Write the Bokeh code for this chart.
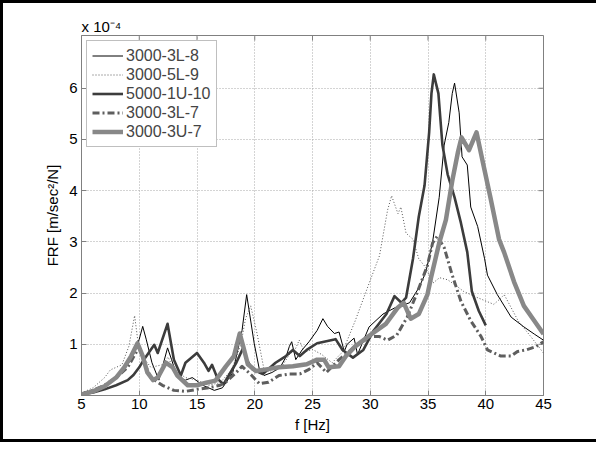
import math
from bokeh.plotting import figure
from bokeh.layouts import column
from bokeh.models import Range1d, FixedTicker, Legend, LegendItem
from bokeh.embed import file_html
from bokeh.resources import INLINE

# ---- data (FRF in units of 1e-4 m/sec^2/N) ----
f_3L8 = [5, 6, 7, 8, 8.5, 9, 9.5, 10, 10.3, 10.6, 11.1, 11.7, 12.45, 12.8, 13.3, 14, 14.6, 15.5, 16.5,
         17.2, 18.1, 18.9, 19.3, 19.95, 20.4, 20.8, 21.5, 22.2, 22.7, 23.0, 23.2, 23.55, 24.1, 24.7,
         25.4, 25.9, 26.3, 26.9, 27.3, 27.75, 28.0, 28.6, 28.9, 29.9, 31.1, 32.2, 33.4, 34.2, 34.8,
         35.4, 35.97, 36.4, 36.8, 37.1, 37.3, 37.7, 37.95, 38.4, 38.7, 39.3, 39.9, 40.15, 41.0, 42.2,
         43.3, 44.2, 45]
v_3L8 = [0.05, 0.1, 0.2, 0.35, 0.45, 0.6, 0.8, 1.1, 1.35, 1.1, 0.64, 0.3, 0.93, 0.7, 0.35, 0.3, 0.35,
         0.2, 0.1, 0.15, 0.45, 1.27, 1.97, 1.02, 0.51, 0.39, 0.45, 0.55, 0.75, 0.96, 1.05, 0.70, 0.89,
         1.05, 1.27, 1.50, 1.35, 1.21, 1.24, 0.86, 1.0, 1.12, 0.80, 1.34, 1.59, 1.72, 1.81, 2.10, 2.4,
         3.0, 3.87, 4.89, 5.33, 5.9, 6.10, 5.52, 4.66, 4.5, 3.68, 3.30, 2.67, 2.35, 1.97, 1.53, 1.34,
         1.2, 1.08]

f_5L9 = [5, 6, 6.5, 7, 7.5, 8, 8.5, 9.1, 9.6, 10.0, 10.5, 11, 12, 12.5, 13, 14, 15, 16, 17, 18, 18.8,
         19.2, 19.65, 20.2, 20.8, 21.5, 22.3, 23.0, 23.5, 23.85, 24.3, 25, 25.8, 26.7, 27.6, 28.7, 29.8,
         30.8, 31.5, 31.85, 32.4, 32.65, 33.1, 33.7, 34.2, 34.8, 35.4, 36.0, 36.7, 37.4, 38.1, 39.3,
         40.7, 41.3, 41.6, 42.8, 43.9, 45]
v_5L9 = [0.05, 0.15, 0.25, 0.35, 0.5, 0.55, 0.6, 0.96, 1.56, 0.85, 0.7, 0.55, 0.6, 0.75, 0.5, 0.35, 0.3,
         0.2, 0.25, 0.5, 1.0, 1.5, 1.75, 1.21, 0.51, 0.45, 0.55, 0.8, 0.9, 1.08, 0.85, 0.9, 0.8, 0.64,
         0.85, 1.46, 2.13, 2.73, 3.62, 3.90, 3.55, 3.68, 3.17, 3.05, 2.67, 2.5, 2.19, 2.3, 2.26, 2.15,
         2.03, 1.91, 1.78, 1.9, 1.97, 1.46, 1.15, 0.83]

f_1U10 = [5, 6, 7, 8, 9, 9.5, 10, 10.4, 11.3, 11.6, 12.45, 13.0, 13.6, 14.0, 15.0, 15.6, 16.0, 16.3, 16.8,
          17.3, 18.4, 19.0, 19.3, 19.8, 20.7, 21.8, 22.7, 23.3, 23.9, 24.5, 25.4, 26.0, 27.0, 27.6, 28.5,
          29.4, 30.3, 31.4, 32.1, 32.7, 33.1, 33.7, 34.2, 34.7, 35.1, 35.3, 35.5, 35.9, 36.25, 36.7,
          37.3, 37.85, 38.4, 38.8, 39.4, 40.0]
v_1U10 = [0.02, 0.06, 0.12, 0.2, 0.3, 0.4, 0.55, 0.7, 0.99, 0.83, 1.40, 0.70, 0.39, 0.64, 0.83, 0.64, 0.48,
          0.6, 0.32, 0.22, 0.64, 0.93, 0.70, 0.51, 0.42, 0.64, 0.77, 0.89, 0.77, 0.89, 1.02, 1.05, 1.1,
          0.89, 0.74, 0.89, 1.27, 1.59, 1.94, 1.81, 1.91, 2.67, 3.49, 4.1, 5.14, 5.9, 6.27, 5.9, 4.89,
          4.32, 3.87, 3.37, 2.8, 2.03, 1.65, 1.37]

f_3L7 = [5, 6, 7, 8, 9, 9.5, 10, 10.5, 11, 12, 13, 14, 15, 16, 17, 17.5, 18.4, 18.9, 19.7, 20.4, 21.2,
         22.1, 23.0, 23.9, 24.7, 25.4, 26.2, 27.3, 28.7, 30.0, 30.8, 31.5, 32.3, 33.2, 34.1, 34.95, 35.4,
         35.8, 36.4, 37.1, 37.85, 38.7, 39.6, 40.15, 41.3, 42.2, 42.75, 43.5, 44.3, 45]
v_3L7 = [0.03, 0.1, 0.2, 0.35, 0.55, 0.75, 0.95, 0.6, 0.35, 0.2, 0.1, 0.08, 0.12, 0.15, 0.2, 0.26, 0.45,
         0.57, 0.4, 0.23, 0.26, 0.39, 0.42, 0.42, 0.51, 0.64, 0.45, 0.70, 0.96, 1.15, 1.15, 1.08, 1.18,
         1.53, 2.03, 2.54, 2.98, 3.11, 2.89, 2.35, 1.84, 1.46, 1.15, 0.89, 0.77, 0.77, 0.86, 0.89, 0.95,
         1.05]

f_3U7 = [5, 6, 7, 8, 8.7, 9.3, 9.85, 10.3, 10.7, 11.2, 11.6, 12.3, 12.9, 13.3, 14.2, 15.0, 15.8, 16.6,
         17.5, 18.2, 18.7, 19.0, 19.4, 20.1, 21.0, 22.1, 23.3, 24.5, 25.4, 26.0, 26.4, 27.3, 27.9, 28.7,
         30.0, 31.35, 32.4, 32.9, 33.5, 34.2, 34.95, 35.25, 35.97, 36.55, 37.1, 37.6, 37.9, 38.55, 39.2,
         39.8, 40.4, 41.15, 41.6, 42.45, 43.3, 44.2, 45]
v_3U7 = [0.02, 0.08, 0.18, 0.35, 0.55, 0.77, 1.02, 0.77, 0.45, 0.3, 0.35, 0.64, 0.55, 0.39, 0.2, 0.2,
         0.25, 0.29, 0.57, 0.77, 1.21, 0.96, 0.61, 0.48, 0.51, 0.55, 0.57, 0.61, 0.70, 0.70, 0.55, 0.57,
         0.77, 0.96, 1.18, 1.40, 1.72, 1.81, 1.50, 1.59, 1.97, 2.29, 2.98, 3.43, 4.19, 4.76, 5.04, 4.79,
         5.14, 4.5, 3.87, 3.05, 2.79, 2.22, 1.75, 1.46, 1.2]

series_names = ["3000-3L-8", "3000-5L-9", "5000-1U-10", "3000-3L-7", "3000-3U-7"]
x_ticks = [5, 10, 15, 20, 25, 30, 35, 40, 45]
y_ticks = [1, 2, 3, 4, 5, 6]
x_min, x_max = 5, 45
y_min, y_max = 0, 7.03
scale_note = "x 10\u207b\u2074"

FONT = "Liberation Sans"

p = figure(width=593, height=436, output_backend="svg", toolbar_location=None,
           x_range=Range1d(x_min, x_max), y_range=Range1d(y_min, y_max),
           min_border_left=78, min_border_right=53, min_border_top=32, min_border_bottom=44)

p.title.text = scale_note
p.title.align = "left"
p.title.offset = 0
p.title.standoff = 2
p.title.text_font = FONT
p.title.text_font_size = "15px"
p.title.text_font_style = "normal"
p.title.text_color = "black"

p.background_fill_color = "white"
p.border_fill_color = "white"
p.outline_line_color = "#808080"

for ax in (p.xaxis[0], p.yaxis[0]):
    ax.axis_line_color = "#808080"
    ax.major_tick_line_color = "#808080"
    ax.major_tick_in = 5
    ax.major_tick_out = 0
    ax.minor_tick_line_color = None
    ax.major_label_text_font = FONT
    ax.major_label_text_font_size = "15px"
    ax.major_label_text_color = "black"
    ax.axis_label_text_font = FONT
    ax.axis_label_text_font_size = "15px"
    ax.axis_label_text_font_style = "normal"
    ax.axis_label_text_color = "black"

p.xaxis.ticker = FixedTicker(ticks=x_ticks)
p.yaxis.ticker = FixedTicker(ticks=y_ticks)
p.xaxis.axis_label = "f [Hz]"
p.yaxis.axis_label = "FRF [m/sec\u00b2/N]"
p.xaxis.major_label_standoff = 3
p.yaxis.major_label_standoff = 4
p.xaxis.axis_label_standoff = 4
p.yaxis.axis_label_standoff = 5

p.grid.grid_line_color = "#a8a8a8"
p.grid.grid_line_dash = "1 2"
p.grid.grid_line_width = 1

# inward ticks on right and top edges of the box
p.ray(x=[x_max] * len(y_ticks), y=y_ticks, length=5, length_units="screen", angle=math.pi,
      line_color="#808080", line_width=1)
p.ray(x=x_ticks, y=[y_max] * len(x_ticks), length=5, length_units="screen", angle=-math.pi / 2,
      line_color="#808080", line_width=1)

styles = [
    dict(line_color="black", line_width=1),
    dict(line_color="#555555", line_width=1, line_dash="1 2"),
    dict(line_color="#3c3c3c", line_width=2.6),
    dict(line_color="#5e5e5e", line_width=3, line_dash="7 3 2 3"),
    dict(line_color="#888888", line_width=4.5),
]
data = [(f_3L8, v_3L8), (f_5L9, v_5L9), (f_1U10, v_1U10), (f_3L7, v_3L7), (f_3U7, v_3U7)]

items = []
for (fx, vy), st, name in zip(data, styles, series_names):
    r = p.line(fx, vy, line_join="round", **st)
    items.append(LegendItem(label=name, renderers=[r]))

leg = Legend(items=items, location="top_left")
leg.margin = 5
leg.padding = 5
leg.spacing = 0
leg.glyph_width = 31
leg.glyph_height = 19
leg.label_height = 19
leg.label_standoff = 3
leg.label_text_font = FONT
leg.label_text_font_size = "16px"
leg.border_line_color = "#808080"
leg.border_line_width = 1
leg.background_fill_alpha = 1
p.add_layout(leg)

page = column(p, styles={"border-top": "3px solid black", "border-bottom": "3px solid black",
                         "border-left": "3px solid black"})

open("out.html", "w").write(file_html(page, INLINE))
